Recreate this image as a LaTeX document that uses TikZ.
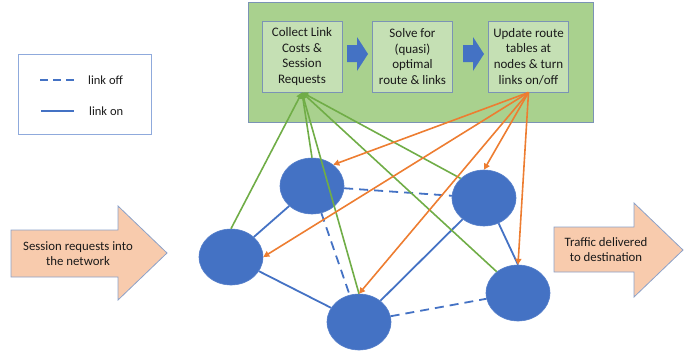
\documentclass[tikz,border=0pt]{standalone}
\usepackage{fontspec}
\setmainfont{Carlito}
\usetikzlibrary{shapes.geometric,arrows.meta}
\definecolor{boxgreen}{HTML}{A9D18E}
\definecolor{innergreen}{HTML}{C5E0B4}
\definecolor{slate}{HTML}{7B93B5}
\definecolor{nodeblue}{HTML}{4472C4}
\definecolor{lgreen}{HTML}{70AD47}
\definecolor{lorange}{HTML}{ED7D31}
\definecolor{peach}{HTML}{F8CBAD}
\definecolor{legborder}{HTML}{8FAADC}
\definecolor{txt}{HTML}{1A1A1A}
\tikzset{
  netnode/.style={ellipse, fill=nodeblue, draw=nodeblue!90!white, line width=0.6pt, minimum width=64pt, minimum height=56pt, inner sep=0pt},
  stepbox/.style={draw=slate, line width=0.9pt, fill=innergreen, text=txt, font=\fontsize{13}{15.7}\selectfont, align=center, minimum width=80pt, minimum height=71pt, inner sep=0pt},
  linkon/.style={draw=nodeblue, line width=1.8pt},
  linkoff/.style={draw=nodeblue, line width=1.8pt, dash pattern=on 9pt off 6pt},
  greenarrow/.style={draw=lgreen, line width=1.6pt, -{Triangle[length=6pt,width=6pt]}},
  orangearrow/.style={draw=lorange, line width=1.6pt, -{Triangle[length=6pt,width=6pt]}},
  blockarrow/.style={fill=nodeblue, draw=none},
  bigarrow/.style={fill=peach, draw=legborder!80!gray, line width=0.8pt},
  arrowtext/.style={text=txt, font=\fontsize{12.8}{15}\selectfont, align=center},
  legtext/.style={text=txt, font=\fontsize{12.5}{14}\selectfont, anchor=west, inner sep=0pt}
}
\begin{document}
\begin{tikzpicture}[x=1pt,y=-1pt]
\useasboundingbox (0,0) rectangle (697,354);
% control box
\node[draw=slate, line width=1pt, fill=boxgreen, minimum width=345pt, minimum height=120pt, inner sep=0pt] (ctrl) at (420.5,62) {};
\node[stepbox] (b1) at (302,56.5) {Collect Link\\Costs \&\\Session\\Requests};
\node[stepbox] (b2) at (412.5,56.5) {Solve for\\(quasi)\\optimal\\route \& links};
\node[stepbox] (b3) at (528.5,56.5) {Update route\\tables at\\nodes \& turn\\links on/off};
\path[blockarrow] (347,45) -- (357,45) -- (357,37) -- (368,54) -- (357,71) -- (357,62) -- (347,62) -- cycle;
\path[blockarrow] (463,45) -- (473,45) -- (473,37) -- (484,54) -- (473,71) -- (473,62) -- (463,62) -- cycle;
% legend
\node[draw=legborder, line width=0.9pt, minimum width=133pt, minimum height=80pt, inner sep=0pt] (leg) at (84.5,94) {};
\coordinate (d1) at (40,80); \coordinate (d2) at (78,80);
\coordinate (s1) at (41,111); \coordinate (s2) at (74,111);
\draw[linkoff, line width=1.6pt, dash pattern=on 8pt off 5pt] (d1) -- (d2);
\draw[linkon, line width=1.6pt] (s1) -- (s2);
\node[legtext] (loff) at (88,80) {link off};
\node[legtext] (lon) at (89,111) {link on};
% big arrows
\path[bigarrow] (11,230) -- (118,230) -- (118,206) -- (167,253) -- (118,300) -- (118,277) -- (11,277) -- cycle;
\node[arrowtext] (inT) at (78,254) {Session requests into\\the network};
\path[bigarrow] (554,227) -- (634,227) -- (634,203) -- (683,250) -- (634,297) -- (634,272) -- (554,272) -- cycle;
\node[arrowtext] (outT) at (606,250) {Traffic delivered\\to destination};
% network nodes
\node[netnode] (A) at (312,186) {};
\node[netnode] (B) at (484,198) {};
\node[netnode] (C) at (231,257) {};
\node[netnode] (D) at (359,322) {};
\node[netnode] (E) at (518,293) {};
% links
\draw[linkon] (A) -- (C);
\draw[linkon] (C) -- (D);
\draw[linkon] (D) -- (B);
\draw[linkon] (B.-60) -- (E.north);
\draw[linkoff] (A) -- (B);
\draw[linkoff] (A) -- (D);
\draw[linkoff] (D) -- (E);
% green: measurements to box 1
\draw[greenarrow] (C.north) -- (b1.south);
\draw[greenarrow] (A.north) -- (b1.south);
\draw[greenarrow] (D.north) -- (b1.south);
\draw[greenarrow] (B.140) -- (b1.south);
\draw[greenarrow] (E.135) -- (b1.south);
% orange: control from box 3
\draw[orangearrow] (b3.south) -- (A.45);
\draw[orangearrow] (b3.south) -- (C.east);
\draw[orangearrow] (b3.south) -- (D.north);
\draw[orangearrow] (b3.south) -- (B.north);
\draw[orangearrow] (b3.south) -- (E.north);
\end{tikzpicture}
\end{document}
